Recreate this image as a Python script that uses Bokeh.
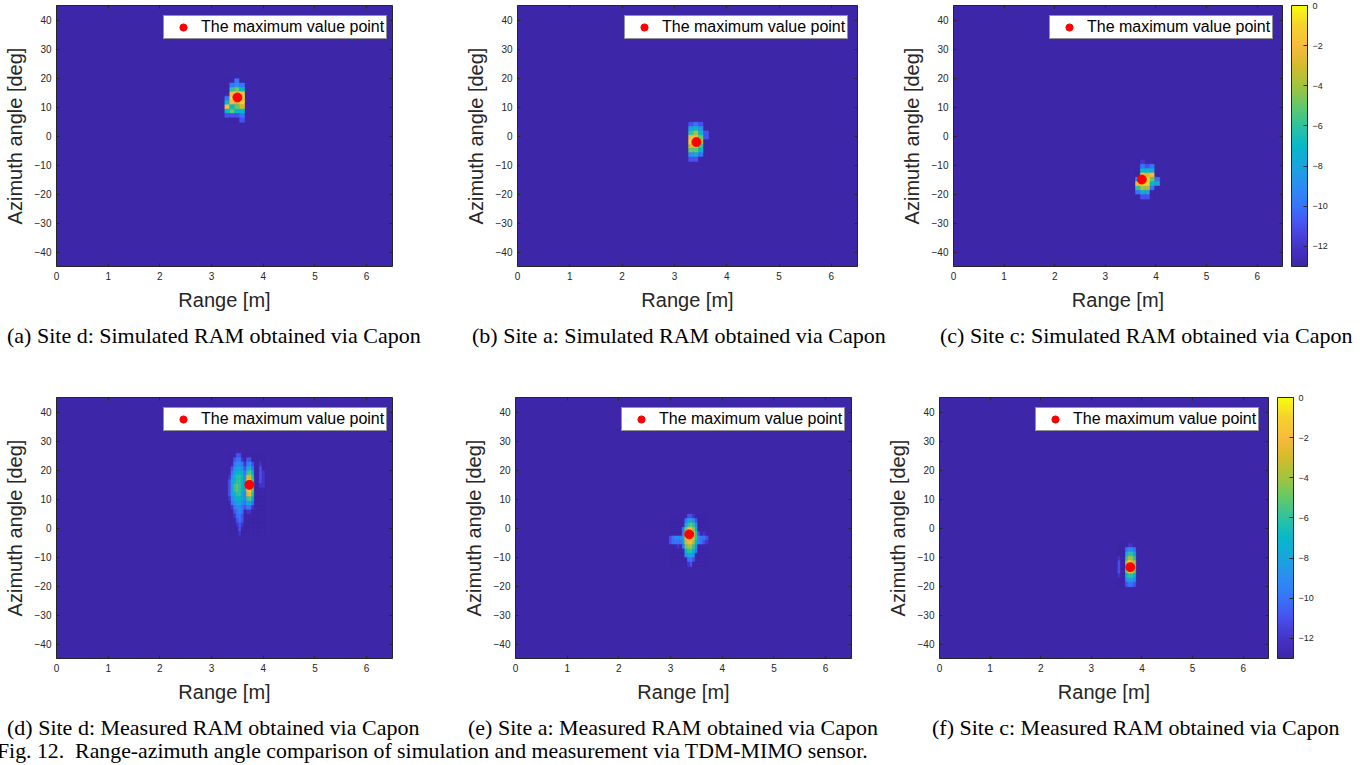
from bokeh.plotting import figure
from bokeh.models import (LinearColorMapper, ColorBar, FixedTicker, ColumnDataSource,
                          Div, LinearAxis, Legend, LegendItem)
from bokeh.layouts import row, column
from bokeh.embed import file_html
from bokeh.resources import INLINE

# ---------------- data ----------------
x_ticks = [0, 1, 2, 3, 4, 5, 6]
y_ticks = [-40, -30, -20, -10, 0, 10, 20, 30, 40]
cb_ticks = [-12, -10, -8, -6, -4, -2, 0]
db_low, db_high = -13, 0

# (a) Site d simulated
a_ranges = [3.305, 3.40, 3.495, 3.59]
a_angles = [19, 17.5, 16, 14.5, 13, 11.5, 10, 8.5, 7, 5.5]
a_db = [
    [-13, -13, -10, -13],
    [-13, -10, -9, -10],
    [-13, -6, -5, -7],
    [-13, -2, -1, -1.5],
    [-10, -1, 0, -1],
    [-7, -2, -3, -1],
    [-2, -7, -5, -3],
    [-7, -5, -7, -7],
    [-11, -11, -11, -10],
    [-13, -13, -13, -11],
]
a_max = (3.50, 13.3)

# (b) Site a simulated
b_ranges = [3.32, 3.415, 3.51, 3.605]
b_angles = [4.0, 2.5, 1.0, -0.5, -2.0, -3.5, -5.0, -6.5, -8.0]
b_db = [
    [-11, -10, -11, -13],
    [-8, -7, -9, -13],
    [-6, -4, -7, -11],
    [-2, -2, -5, -11],
    [-1, 0, -4, -13],
    [-3, -2, -6, -13],
    [-5, -5, -7, -13],
    [-9, -8, -10, -13],
    [-11, -11, -13, -13],
]
b_max = (3.42, -2.1)

# (c) Site c simulated
c_ranges = [3.645, 3.74, 3.835, 3.93, 4.025]
c_angles = [-9.0, -10.5, -12.0, -13.5, -15.0, -16.5, -18.0, -19.5, -21.0]
c_db = [
    [-13, -12, -13, -13, -13],
    [-13, -10, -11, -10, -13],
    [-13, -7, -7, -8, -13],
    [-13, -2, -3, -2, -13],
    [-9, 0, -1, -5, -10],
    [-2, -1, -1, -7, -8],
    [-6, -4, -4, -10, -13],
    [-10, -8, -8, -13, -13],
    [-13, -11, -11, -13, -13],
]
c_max = (3.72, -15.0)

# (d) Site d measured
d_ranges = [3.35, 3.40, 3.45, 3.50, 3.55, 3.60, 3.65, 3.70, 3.75, 3.80, 3.85, 3.90, 3.95, 4.00]
d_angles = [25, 23.5, 22, 20.5, 19, 17.5, 16, 14.5, 13, 11.5, 10, 8.5, 7, 5.5, 4, 2.5, 1, -0.5, -2]
d_db = [
    [-13, -13, -13, -11, -11, -13, -13, -13, -13, -13, -13, -13, -13, -13],
    [-13, -13, -11, -10, -10, -12, -13, -11, -11, -13, -13, -13, -13, -13],
    [-13, -13, -10, -9, -9, -10, -12, -10, -9, -11, -13, -13, -12, -13],
    [-13, -11, -9, -8, -8, -9, -11, -8, -7, -10, -13, -13, -11, -13],
    [-13, -10, -8, -7, -7, -8, -10, -6, -5, -8, -13, -13, -11, -12],
    [-12, -9, -7, -6, -6, -7, -9, -3, -3, -6, -13, -13, -11, -12],
    [-11, -8, -7, -6, -6, -7, -9, -1, -1, -5, -13, -13, -11, -12],
    [-11, -8, -6, -5, -6, -7, -8, -1, 0, -4, -13, -13, -12, -12],
    [-11, -8, -6, -5, -6, -7, -8, -2, -1, -5, -13, -13, -13, -13],
    [-11, -8, -7, -6, -6, -8, -9, -3, -2, -6, -13, -13, -13, -13],
    [-12, -9, -8, -7, -7, -8, -9, -6, -5, -8, -13, -13, -13, -13],
    [-13, -10, -9, -8, -8, -9, -10, -8, -8, -10, -13, -13, -13, -13],
    [-13, -12, -10, -9, -9, -10, -11, -10, -10, -12, -13, -13, -13, -13],
    [-13, -13, -11, -10, -9, -10, -13, -12, -12, -13, -13, -13, -13, -13],
    [-13, -13, -12, -10, -10, -11, -13, -13, -13, -13, -13, -13, -13, -13],
    [-13, -13, -13, -11, -10, -11, -13, -13, -13, -13, -13, -13, -13, -13],
    [-13, -13, -13, -12, -11, -12, -13, -13, -13, -13, -13, -13, -13, -13],
    [-13, -13, -13, -13, -11, -13, -13, -13, -13, -13, -13, -13, -13, -13],
    [-13, -13, -13, -13, -12, -13, -13, -13, -13, -13, -13, -13, -13, -13],
]
d_max = (3.73, 14.9)

# (e) Site a measured
e_ranges = [3.00, 3.05, 3.10, 3.15, 3.20, 3.25, 3.30, 3.35, 3.40, 3.45, 3.50, 3.55, 3.60, 3.65, 3.70]
e_angles = [4, 2.5, 1, -0.5, -2, -3.5, -5, -6.5, -8, -9.5, -11, -12.5]
e_db = [
    [-13, -13, -13, -13, -13, -13, -13, -11, -11, -12, -13, -13, -13, -13, -13],
    [-13, -13, -13, -13, -13, -13, -10, -8, -8, -9, -11, -13, -13, -13, -13],
    [-13, -13, -13, -13, -13, -13, -8, -6, -5, -6, -9, -13, -13, -13, -13],
    [-13, -13, -13, -13, -13, -10, -5, -2, -2, -4, -7, -13, -13, -13, -13],
    [-13, -13, -13, -13, -13, -9, -3, 0, -1, -3, -6, -11, -13, -12, -13],
    [-11, -10, -9, -9, -9, -8, -2, -1, -1, -3, -6, -9, -10, -10, -11],
    [-11, -10, -10, -10, -10, -8, -3, -2, -2, -4, -7, -9, -10, -11, -12],
    [-13, -13, -13, -12, -13, -10, -5, -4, -4, -6, -9, -13, -13, -13, -13],
    [-13, -13, -13, -13, -13, -13, -7, -6, -6, -7, -10, -13, -13, -13, -13],
    [-13, -13, -13, -13, -13, -13, -9, -8, -8, -9, -13, -13, -13, -13, -13],
    [-13, -13, -13, -13, -13, -13, -13, -10, -10, -11, -13, -13, -13, -13, -13],
    [-13, -13, -13, -13, -13, -13, -13, -12, -11, -13, -13, -13, -13, -13, -13],
]
e_max = (3.36, -2.2)

# (f) Site c measured
f_ranges = [3.55, 3.60, 3.65, 3.70, 3.75, 3.80, 3.85]
f_angles = [-6, -7.5, -9, -10.5, -12, -13.5, -15, -16.5, -18, -19.5]
f_db = [
    [-13, -13, -13, -13, -12, -12, -13],
    [-13, -13, -13, -10, -9, -9, -10],
    [-13, -13, -13, -8, -6, -6, -8],
    [-12, -13, -13, -6, -4, -4, -6],
    [-11, -13, -13, -4, -1, -2, -4],
    [-11, -13, -13, -3, 0, -1, -3],
    [-11, -13, -13, -5, -2, -2, -5],
    [-12, -13, -13, -7, -6, -6, -7],
    [-13, -13, -13, -9, -8, -8, -9],
    [-13, -13, -13, -11, -10, -10, -11],
]
f_max = (3.77, -13.5)

captions_top = ["(a) Site d: Simulated RAM obtained via Capon",
                "(b) Site a: Simulated RAM obtained via Capon",
                "(c) Site c: Simulated RAM obtained via Capon"]
captions_bottom = ["(d) Site d: Measured RAM obtained via Capon",
                   "(e) Site a: Measured RAM obtained via Capon",
                   "(f) Site c: Measured RAM obtained via Capon"]
fig_caption = "Fig. 12.&nbsp; Range-azimuth angle comparison of simulation and measurement via TDM-MIMO sensor."
legend_text = "The maximum value point"

# ---------------- style ----------------
anchors = ["#3E26A8", "#4534C7", "#4850EF", "#3874FB", "#2C8DF2", "#1AA5DE", "#06B8CA",
           "#2EC3A0", "#62C86A", "#A2C43E", "#D4BB2C", "#F8BA3D", "#F4D22E", "#F9FB0E"]


def build_palette(n=256):
    rgb = [tuple(int(h[i:i + 2], 16) for i in (1, 3, 5)) for h in anchors]
    out = []
    m = len(rgb) - 1
    for k in range(n):
        t = k / (n - 1) * m
        i = min(int(t), m - 1)
        f = t - i
        c = [round(rgb[i][j] + (rgb[i + 1][j] - rgb[i][j]) * f) for j in range(3)]
        out.append("#%02x%02x%02x" % tuple(c))
    return out


palette = build_palette()
mapper = LinearColorMapper(palette=palette, low=db_low, high=db_high)
AX = "#262626"
SANS = "Liberation Sans"


def panel(ranges, angles, db, dr, da, mx, width, ml, mr, cbar=False, leg_right=6):
    frame_w = width - ml - mr
    p = figure(width=width, height=315, x_range=(0, 6.5), y_range=(-45, 45),
               output_backend="svg", toolbar_location=None,
               min_border_left=ml, min_border_right=mr, min_border_top=5, min_border_bottom=49,
               background_fill_color=palette[0], border_fill_color="white")
    p.grid.visible = False
    p.outline_line_color = AX
    p.outline_line_width = 1
    p.outline_line_alpha = 1
    xs, ys, vs = [], [], []
    for i, a in enumerate(angles):
        for j, r in enumerate(ranges):
            xs.append(r)
            ys.append(a)
            vs.append(db[i][j])
    src = ColumnDataSource(dict(x=xs, y=ys, v=vs))
    p.rect("x", "y", width=dr, height=da, source=src,
           fill_color={"field": "v", "transform": mapper},
           line_color={"field": "v", "transform": mapper}, line_width=0.6)
    dot = p.scatter([mx[0]], [mx[1]], size=9, color="#FF0000", line_color="#FF0000")

    for ax, ticks in ((p.xaxis[0], x_ticks), (p.yaxis[0], y_ticks)):
        ax.ticker = FixedTicker(ticks=ticks)
        ax.major_tick_in = 3
        ax.major_tick_out = 0
        ax.minor_tick_line_color = None
        ax.axis_line_color = None
        ax.major_tick_line_color = AX
        ax.major_label_text_font = SANS
        ax.major_label_text_font_size = "10px"
        ax.major_label_text_color = AX
        ax.axis_label_text_font = SANS
        ax.axis_label_text_font_size = "20px"
        ax.axis_label_text_font_style = "normal"
        ax.axis_label_text_color = AX
        ax.major_label_standoff = 5
        ax.axis_label_standoff = 6
    p.xaxis.axis_label = "Range [m]"
    p.yaxis.axis_label = "Azimuth angle [deg]"

    # inward ticks on the top and right edges of the box (no labels)
    for loc, ticks in (("above", x_ticks), ("right", y_ticks)):
        ax = LinearAxis(ticker=FixedTicker(ticks=ticks), major_label_text_font_size="0px",
                        major_label_text_color=None,
                        axis_line_color=None, major_tick_in=3, major_tick_out=0,
                        minor_tick_line_color=None, major_tick_line_color=AX,
                        major_label_standoff=0)
        p.add_layout(ax, loc)

    leg = Legend(items=[LegendItem(label=legend_text, renderers=[dot])],
                 location=(frame_w - 227 - leg_right, 227),
                 label_text_font=SANS, label_text_font_size="16px", label_text_color="black",
                 padding=2, spacing=0, label_height=18, label_standoff=1,
                 glyph_width=34, glyph_height=18, border_line_color=AX, border_line_width=1,
                 background_fill_color="white", background_fill_alpha=1, margin=0)
    p.add_layout(leg)

    if cbar:
        # blank gap between the box and the colour bar
        gap = LinearAxis(ticker=FixedTicker(ticks=y_ticks), major_label_text_font_size="0px",
                         major_label_text_color=None, axis_line_color=None,
                         major_tick_in=0, major_tick_out=9, major_tick_line_color=None,
                         minor_tick_line_color=None, major_label_standoff=0)
        p.add_layout(gap, "right")
        cb = ColorBar(color_mapper=mapper, ticker=FixedTicker(ticks=cb_ticks), width=16,
                      padding=0, margin=0, bar_line_color=AX, major_tick_line_color=AX,
                      major_tick_in=4, major_tick_out=0, minor_tick_line_color=None,
                      major_label_text_font=SANS, major_label_text_font_size="9px",
                      major_label_text_color=AX, label_standoff=5,
                      border_line_color=None, background_fill_color=None)
        p.add_layout(cb, "right")
    return p


SIM_DR, SIM_DA = 0.095, 1.5
MEAS_DR, MEAS_DA = 0.05, 1.5

fa = panel(a_ranges, a_angles, a_db, SIM_DR, SIM_DA, a_max, 400, 52, 8)
fb = panel(b_ranges, b_angles, b_db, SIM_DR, SIM_DA, b_max, 466, 117, 9)
fc = panel(c_ranges, c_angles, c_db, SIM_DR, SIM_DA, c_max, 500, 87, 84, cbar=True)
fd = panel(d_ranges, d_angles, d_db, MEAS_DR, MEAS_DA, d_max, 400, 52, 8)
fe = panel(e_ranges, e_angles, e_db, MEAS_DR, MEAS_DA, e_max, 461, 115, 10, leg_right=3)
ff = panel(f_ranges, f_angles, f_db, MEAS_DR, MEAS_DA, f_max, 505, 78, 98, cbar=True)

CAP_FONT = "font-family:'Liberation Serif','Times New Roman',serif;color:#000;white-space:nowrap;"


def caption_div(items, height):
    spans = "".join(
        f'<span style="position:absolute;left:{x}px;top:{t}px;font-size:{fs}px;line-height:{fs}px;">{txt}</span>'
        for x, t, fs, txt in items)
    html = f'<div style="position:relative;width:1366px;height:{height}px;{CAP_FONT}">{spans}</div>'
    return Div(text=html, width=1366, height=height, margin=0)


cap1 = caption_div([(7, 10, 22, captions_top[0]), (472, 10, 22, captions_top[1]),
                    (940, 10, 22, captions_top[2])], 77)
cap2 = caption_div([(7, 10, 22, captions_bottom[0]), (468, 10, 22, captions_bottom[1]),
                    (932, 10, 22, captions_bottom[2]), (-3, 34, 21.8, fig_caption)], 57)

layout = column(row(fa, fb, fc, spacing=0), cap1, row(fd, fe, ff, spacing=0), cap2, spacing=0)

open("out.html", "w").write(file_html(layout, INLINE))
